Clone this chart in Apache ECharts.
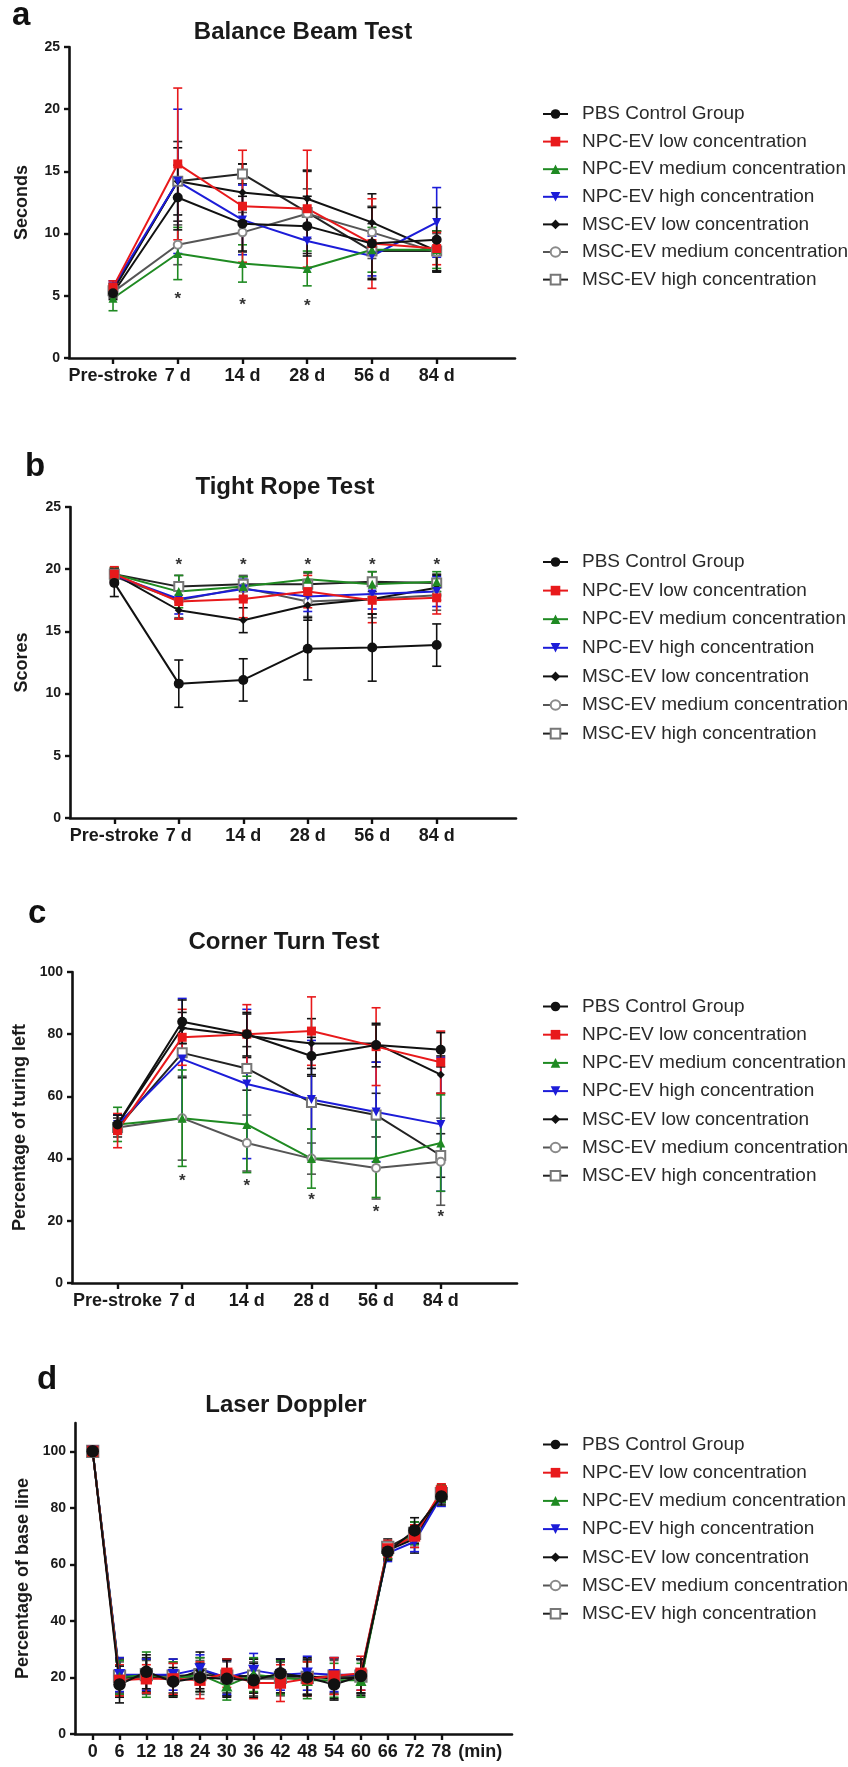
<!DOCTYPE html>
<html><head><meta charset="utf-8">
<script src="https://cdn.jsdelivr.net/npm/echarts@6/dist/echarts.min.js"></script>
<style>html,body{margin:0;padding:0;background:#fff}#c{width:848px;height:1767px}</style>
</head><body><div id="c"></div>
<script>
// ---------- DATA ----------
const groups = ['PBS Control Group','NPC-EV low concentration','NPC-EV medium concentration','NPC-EV high concentration','MSC-EV low concentration','MSC-EV medium concentration','MSC-EV high concentration'];
const dayLabels = ['Pre-stroke','7 d','14 d','28 d','56 d','84 d'];
const dayIndex = [0,1,2,3,4,5];
const minutes = [0,6,12,18,24,30,36,42,48,54,60,66,72,78];
const minuteLabels = ['0','6','12','18','24','30','36','42','48','54','60','66','72','78'];
const minuteUnit = '(min)';

// a: Balance Beam Test (seconds), mean and error per group (order of groups)
const beamMeans = [
  [5.2, 12.9, 10.8, 10.6, 9.2, 9.5],
  [5.7, 15.6, 12.2, 12.0, 9.2, 8.8],
  [4.8, 8.4, 7.6, 7.2, 8.7, 8.7],
  [5.7, 14.2, 11.1, 9.4, 8.2, 10.9],
  [5.5, 14.2, 13.3, 12.8, 10.9, 8.6],
  [5.3, 9.1, 10.1, 11.6, 10.1, 8.5],
  [5.4, 14.2, 14.8, 11.7, 8.6, 8.6]
];
const beamErrs = [
  [0.5, 2.6, 2.2, 2.4, 2.9, 2.6],
  [0.5, 6.1, 4.5, 4.7, 3.6, 1.3],
  [1.0, 2.1, 1.5, 1.4, 1.8, 1.5],
  [0.5, 5.8, 2.8, 2.2, 1.6, 2.8],
  [0.5, 2.7, 2.3, 2.3, 2.3, 1.6],
  [0.5, 1.6, 1.6, 2.0, 2.1, 1.5],
  [0.5, 3.2, 0.8, 3.3, 2.2, 1.6]
];
const beamStarX = [1, 2, 3];
const beamStarY = [5.0, 4.55, 4.47];

// b: Tight Rope Test (scores)
const ropeMeans = [
  [18.9, 10.8, 11.1, 13.6, 13.7, 13.9],
  [19.6, 17.4, 17.6, 18.2, 17.5, 17.7],
  [19.6, 18.2, 18.6, 19.2, 18.8, 19.0],
  [19.5, 17.6, 18.4, 17.8, 18.0, 18.2],
  [19.6, 16.7, 15.9, 17.1, 17.6, 18.5],
  [19.4, 17.5, 18.5, 17.4, 17.6, 17.9],
  [19.6, 18.6, 18.8, 18.8, 19.0, 18.9]
];
const ropeErrs = [
  [1.1, 1.9, 1.7, 2.5, 2.7, 1.7],
  [0.6, 1.4, 1.5, 1.3, 1.8, 1.3],
  [0.5, 1.3, 0.8, 0.6, 1.0, 0.8],
  [0.5, 1.2, 0.8, 1.2, 1.2, 1.2],
  [0.5, 0.7, 1.0, 1.2, 1.2, 1.0],
  [0.5, 1.4, 1.0, 1.2, 1.5, 1.2],
  [0.5, 0.9, 0.6, 0.9, 0.8, 0.7]
];
const ropeStarX = [1, 2, 3, 4, 5];
const ropeStarY = [20.6, 20.6, 20.6, 20.6, 20.6];

// c: Corner Turn Test (percentage of turning left)
const cornerMeans = [
  [51, 84, 80, 73, 76.5, 75],
  [49, 79, 80, 81, 76, 71],
  [51, 53, 51, 40, 40, 45],
  [51, 72, 64, 59, 55, 51],
  [51, 82, 79.5, 77, 77, 67],
  [50, 53, 45, 40, 37, 39],
  [50, 74, 69, 58, 54, 41]
];
const cornerErrs = [
  [3, 7, 7, 6, 7, 5.5],
  [5.5, 9, 9.5, 11, 12.5, 10],
  [5.5, 15.5, 15.5, 9.5, 12.5, 15.5],
  [3, 19.5, 24, 19, 16, 21.5],
  [3, 5, 7, 8, 6, 6],
  [3, 13.5, 9, 5, 10, 14],
  [3, 8, 7, 8.5, 7, 7]
];
const cornerStarX = [1, 2, 3, 4, 5];
const cornerStarY = [34.1, 32.5, 27.9, 23.9, 22.3];

// d: Laser Doppler (percentage of base line)
const dopplerMeans = [
  [100, 17.5, 22, 18.5, 20, 19.5, 19, 21.5, 20, 17.5, 20.5, 64.5, 72, 84],
  [100, 19, 19.5, 19.5, 19, 21.5, 18, 18, 19.5, 20.5, 21.5, 65.5, 70, 86],
  [100, 20, 21, 19.5, 21, 17, 21, 20, 19, 19, 19, 65, 71, 85],
  [100, 21, 21, 21, 23, 20, 22.5, 21, 21.5, 21, 21, 64, 68, 84],
  [100, 20, 20.5, 19, 22.5, 20, 20.5, 20.5, 20.5, 19.5, 20, 65, 69, 85],
  [100, 19.5, 20, 20, 20, 19.5, 19.5, 19.5, 20, 20, 20, 65, 70, 84.5],
  [100, 20.5, 21, 20.5, 21, 20.5, 20.5, 20, 20, 20.5, 20.5, 66, 71, 85]
];
const dopplerErrs = [
  [0, 6.5, 6, 5, 5, 6.5, 6, 5, 6.5, 5, 6, 3, 4.5, 3],
  [0, 5.5, 5, 5.5, 6.5, 5, 5.5, 6.5, 6, 6.5, 6, 3, 4, 2.5],
  [0, 6, 8, 6, 6, 5, 6, 6, 6.5, 6, 6, 3, 4, 3],
  [0, 6, 5.5, 5.5, 5, 6, 6, 5.5, 6, 6, 5.5, 3, 3.5, 3.5],
  [0, 7, 6, 6, 6.5, 6.5, 6, 6, 6.5, 7.5, 6.5, 3, 5, 3],
  [0, 6, 6, 5.5, 6, 6, 6, 6, 6, 6, 6, 3, 4, 3],
  [0, 6, 6, 6, 6, 6, 6, 5.5, 6, 6, 6, 3, 4, 3]
];

// ---------- STYLE ----------
const FONT = '"Liberation Sans", Arial, Helvetica, sans-serif';
const TXT = '#1a1a1a';
const styles = [
  {color:'#111111', line:'#111111', symbol:'circle', size:10},
  {color:'#e8191b', line:'#e8191b', symbol:'rect', size:9},
  {color:'#1f8a22', line:'#1f8a22', symbol:'triangle', size:9},
  {color:'#1c1cd8', line:'#1c1cd8', symbol:'triangle', size:9, rotate:180},
  {color:'#111111', line:'#111111', symbol:'diamond', size:8},
  {color:'#8a8a8a', line:'#555555', symbol:'emptyCircle', size:8},
  {color:'#777777', line:'#222222', symbol:'emptyRect', size:9}
];

const panels = [
  {x: dayIndex, means: beamMeans, errs: beamErrs, sx: beamStarX, sy: beamStarY,
   grid:{left:69, top:47, width:446, height:311}, xr:[-0.68, 6.21], yr:[0,25], yTicks:[0,5,10,15,20,25],
   yName:'Seconds', nameGap:38, title:'Balance Beam Test', tx:303, ty:32, letter:'a', lx:12, ly:16,
   legendTop:98.5, legendGap:6.6, symScale:1},
  {x: dayIndex, means: ropeMeans, errs: ropeErrs, sx: ropeStarX, sy: ropeStarY,
   grid:{left:70, top:507, width:446, height:311}, xr:[-0.687, 6.23], yr:[0,25], yTicks:[0,5,10,15,20,25],
   yName:'Scores', nameGap:39, title:'Tight Rope Test', tx:285, ty:487, letter:'b', lx:25, ly:467,
   legendTop:546.5, legendGap:7.6, symScale:1},
  {x: dayIndex, means: cornerMeans, errs: cornerErrs, sx: cornerStarX, sy: cornerStarY,
   grid:{left:72, top:972, width:445, height:311}, xr:[-0.705, 6.18], yr:[0,100], yTicks:[0,20,40,60,80,100],
   yName:'Percentage of turing left', nameGap:40, title:'Corner Turn Test', tx:284, ty:942, letter:'c', lx:28, ly:914,
   legendTop:991, legendGap:7.2, symScale:1},
  {x: minutes, means: dopplerMeans, errs: dopplerErrs, sx: [], sy: [],
   grid:{left:75, top:1423, width:437, height:311}, xr:[-3.96, 93.8], yr:[0,110], yTicks:[0,20,40,60,80,100],
   yName:'Percentage of base line', nameGap:41, title:'Laser Doppler', tx:286, ty:1405, letter:'d', lx:37, ly:1380,
   legendTop:1429, legendGap:7.2, symScale:1.25}
];

function errRender(color){
  return function(params, api){
    const x = api.value(0), lo = api.value(1), hi = api.value(2);
    const p1 = api.coord([x, lo]), p2 = api.coord([x, hi]);
    const st = {stroke: color, lineWidth: 1.6, fill: null};
    const cw = 4.5;
    return {type:'group', children:[
      {type:'line', shape:{x1:p1[0], y1:p1[1], x2:p2[0], y2:p2[1]}, style:st},
      {type:'line', shape:{x1:p1[0]-cw, y1:p1[1], x2:p1[0]+cw, y2:p1[1]}, style:st},
      {type:'line', shape:{x1:p2[0]-cw, y1:p2[1], x2:p2[0]+cw, y2:p2[1]}, style:st}
    ]};
  };
}
function starRender(params, api){
  const p = api.coord([api.value(0), api.value(1)]);
  return {type:'text', style:{text:'*', x:p[0], y:p[1]+4, align:'center', verticalAlign:'middle',
    font:'bold 17px ' + FONT, fill:'#333'}};
}

const option = {
  animation:false,
  backgroundColor:'#fff',
  grid: panels.map(p => Object.assign({outerBoundsMode:'none', containLabel:false}, p.grid)),
  xAxis: panels.map((p, pi) => ({
    type:'value', gridIndex:pi, min:p.xr[0], max:p.xr[1],
    splitLine:{show:false},
    axisLine:{onZero:false, lineStyle:{color:'#111', width:2.6}},
    axisTick:{customValues: p.x, length:6, lineStyle:{color:'#111', width:2.4}},
    axisLabel:{
      customValues: pi === 3 ? p.x.concat([86.7]) : p.x,
      margin:9, color:TXT, fontFamily:FONT, fontWeight:'bold', fontSize:18,
      formatter: v => {
        if (pi === 3) { const i = minutes.indexOf(v); return i >= 0 ? minuteLabels[i] : minuteUnit; }
        return dayLabels[Math.round(v)];
      }
    }
  })),
  yAxis: panels.map((p, pi) => ({
    type:'value', gridIndex:pi, min:p.yr[0], max:p.yr[1],
    splitLine:{show:false},
    axisLine:{show:true, onZero:false, lineStyle:{color:'#111', width:2.6}},
    axisTick:{show:true, customValues:p.yTicks, length:5, lineStyle:{color:'#111', width:2.4}},
    axisLabel:{customValues:p.yTicks, margin:9, color:TXT, fontFamily:FONT, fontWeight:'bold', fontSize:14},
    name:p.yName, nameLocation:'middle', nameGap:p.nameGap, nameRotate:90,
    nameTextStyle:{color:TXT, fontFamily:FONT, fontWeight:'bold', fontSize:18}
  })),
  legend: panels.map(p => ({
    data: groups, orient:'vertical', left:537, top:p.legendTop,
    itemWidth:25, itemHeight:12, itemGap:p.legendGap, selectedMode:false,
    textStyle:{fontFamily:FONT, fontSize:19, color:'#2a2a2a', lineHeight:21, padding:[0,0,0,9]}
  })),
  graphic: panels.flatMap(p => [
    {type:'text', x:p.tx, y:p.ty, style:{text:p.title, x:0, y:0, align:'center', verticalAlign:'middle',
      font:'bold 24px ' + FONT, fill:TXT}},
    {type:'text', x:p.lx, y:p.ly, style:{text:p.letter, x:0, y:0, align:'left', verticalAlign:'middle',
      font:'bold 33px ' + FONT, fill:'#111'}}
  ]),
  series: []
};

panels.forEach((p, pi) => {
  // error bars
  for (let g = groups.length - 1; g >= 0; g--) {
    const s = styles[g];
    option.series.push({
      type:'custom', xAxisIndex:pi, yAxisIndex:pi, silent:true, z:2,
      renderItem: errRender(g >= 5 ? s.line : s.color),
      encode:{x:0, y:[1,2]},
      data: p.x.map((xv, i) => [xv, p.means[g][i] - p.errs[g][i], p.means[g][i] + p.errs[g][i]])
    });
  }
  // lines (PBS last so it sits on top)
  for (let g = groups.length - 1; g >= 0; g--) {
    const s = styles[g];
    option.series.push({
      name: groups[g], type:'line', xAxisIndex:pi, yAxisIndex:pi, z:3,
      symbol:s.symbol, symbolSize:s.size * p.symScale, symbolRotate:s.rotate || 0,
      showAllSymbol:true,
      lineStyle:{color:s.line, width:2},
      itemStyle:{color:s.color, borderWidth: s.symbol.startsWith('empty') ? 1.6 : 0},
      data: p.x.map((xv, i) => [xv, p.means[g][i]])
    });
  }
  if (p.sx.length) {
    option.series.push({
      type:'custom', xAxisIndex:pi, yAxisIndex:pi, silent:true, z:4,
      renderItem: starRender, encode:{x:0, y:1},
      data: p.sx.map((xv, i) => [xv, p.sy[i]])
    });
  }
});

// Put all line series before custom ones so legend icons come from the line series
option.series.sort((a, b) => (a.type === 'line' ? 0 : 1) - (b.type === 'line' ? 0 : 1));

const chart = echarts.init(document.getElementById('c'), null, {renderer:'canvas', width:848, height:1767});
chart.setOption(option);
</script>
</body></html>
